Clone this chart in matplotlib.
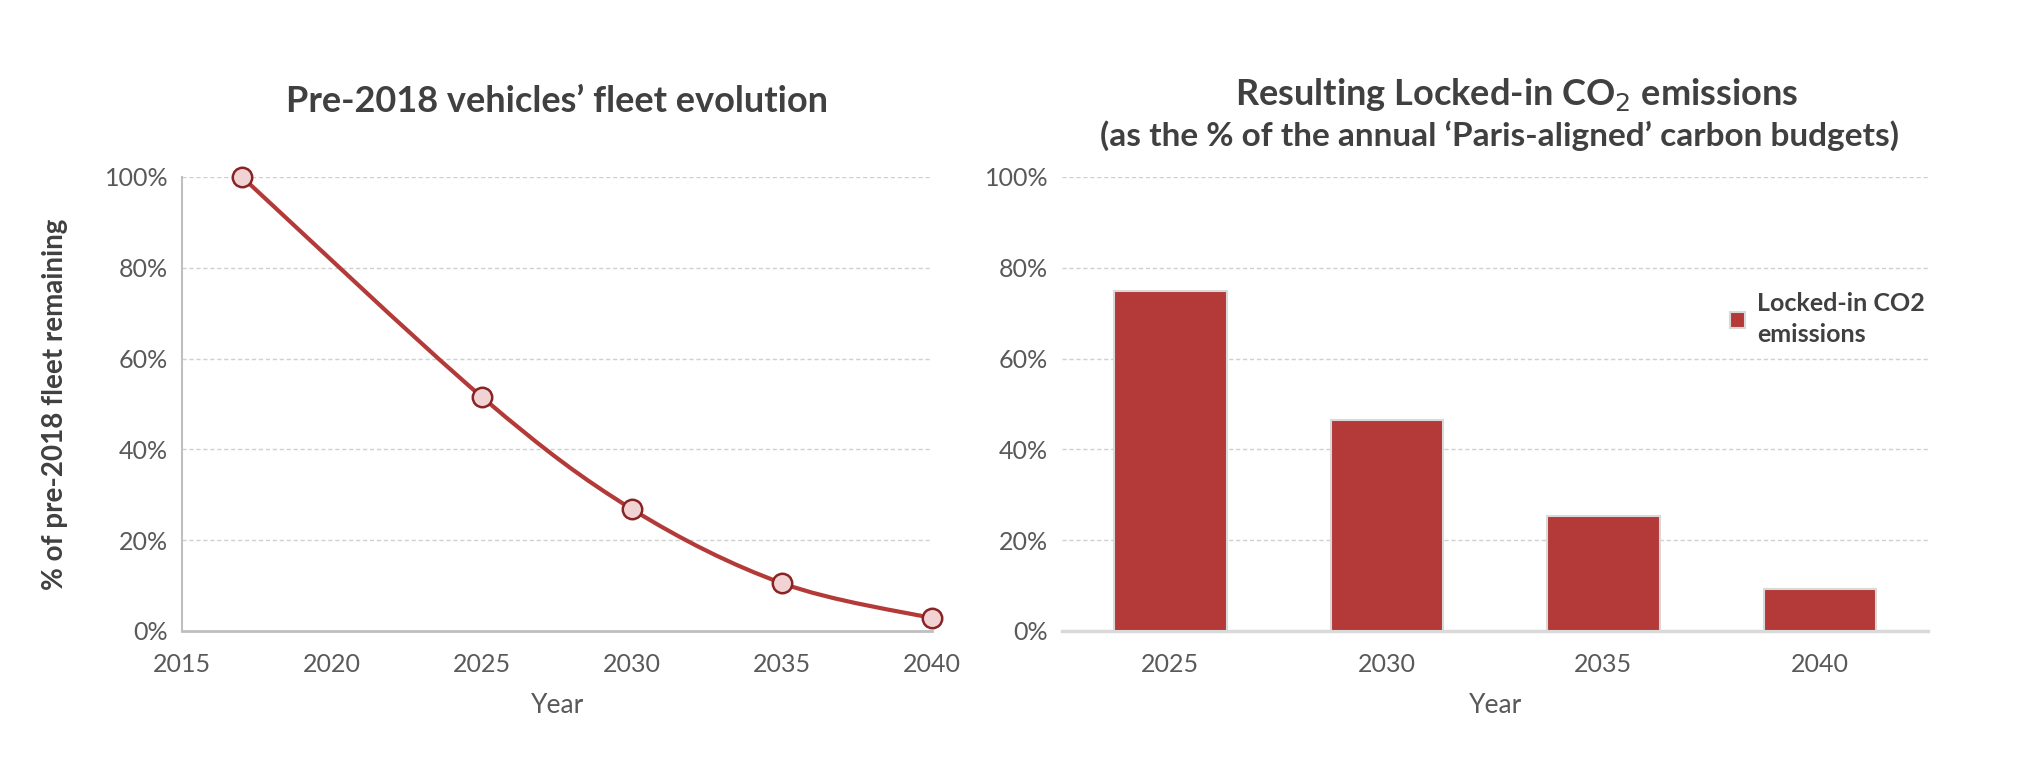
import matplotlib.pyplot as plt
from matplotlib.path import Path
from matplotlib.patches import PathPatch
from matplotlib.ticker import PercentFormatter
import numpy as np

plt.rcParams['font.family'] = ['Lato', 'DejaVu Sans']

# left panel: share of the pre-2018 fleet still on the road
fleet_years = [2017, 2025, 2030, 2035, 2040]
fleet_share = [1.00, 0.515, 0.268, 0.105, 0.028]

# right panel: locked-in CO2 as share of annual budget
budget_years = ['2025', '2030', '2035', '2040']
locked_share = [0.748, 0.464, 0.252, 0.092]

RED = '#b33a38'
EDGE = '#8a2424'
FACE = '#f2d3d3'
TXT = '#404040'
TICK = '#595959'
GRID = '#d0d0d0'


def smooth_path(x, y, tension=1 / 6):
    """Catmull-Rom style cubic Bezier path through the data points."""
    pts = np.column_stack([x, y]).astype(float)
    verts = [pts[0]]
    codes = [Path.MOVETO]
    n = len(pts)
    for i in range(n - 1):
        p0 = pts[max(i - 1, 0)]
        p1 = pts[i]
        p2 = pts[i + 1]
        p3 = pts[min(i + 2, n - 1)]
        c1 = p1 + (p2 - p0) * tension
        c2 = p2 - (p3 - p1) * tension
        verts += [c1, c2, p2]
        codes += [Path.CURVE4] * 3
    return Path(verts, codes)


def style_axes(ax):
    ax.set_ylim(0, 1)
    ax.set_yticks(np.arange(0, 1.01, 0.2))
    ax.yaxis.set_major_formatter(PercentFormatter(1.0, decimals=0))
    ax.yaxis.grid(True, color=GRID, linestyle=(0, (3, 2)), linewidth=1)
    ax.set_axisbelow(True)
    for s in ('top', 'right'):
        ax.spines[s].set_visible(False)
    ax.tick_params(length=0, labelsize=18, labelcolor=TICK)
    ax.tick_params(axis='y', pad=10)


fig = plt.figure(figsize=(20.41, 7.76), dpi=100)

# ---- left: fleet evolution
ax1 = fig.add_axes([0.0892, 0.187, 0.3675, 0.585])
style_axes(ax1)
ax1.set_xlim(2015, 2040)
ax1.set_xticks(range(2015, 2041, 5))
ax1.tick_params(axis='x', pad=16)
ax1.spines['left'].set_color('#bfbfbf')
ax1.spines['bottom'].set_color('#bfbfbf')
ax1.spines['left'].set_linewidth(1.5)
ax1.spines['bottom'].set_linewidth(2)
ax1.add_patch(PathPatch(smooth_path(fleet_years, fleet_share), fill=False,
                        edgecolor=RED, linewidth=3, clip_on=False, zorder=3))
ax1.plot(fleet_years, fleet_share, linestyle='none', marker='o', markersize=14,
         markerfacecolor=FACE, markeredgecolor=EDGE, markeredgewidth=1.8,
         clip_on=False, zorder=4)
ax1.set_xlabel('Year', fontsize=19, color=TICK, labelpad=12)
ax1.set_ylabel('% of pre-2018 fleet remaining', fontsize=20, fontweight='bold',
               color=TXT, labelpad=26)
ax1.set_title("Pre-2018 vehicles\u2019 fleet evolution", fontsize=26,
              fontweight='bold', color=TXT, pad=47)

# ---- right: locked-in emissions
ax2 = fig.add_axes([0.5204, 0.187, 0.4243, 0.585])
style_axes(ax2)
ax2.spines['left'].set_visible(False)
ax2.spines['bottom'].set_color('#d9d9d9')
ax2.spines['bottom'].set_linewidth(2.5)
xpos = np.arange(len(budget_years))
ax2.bar(xpos, locked_share, width=0.52, color=RED, edgecolor='#d9d9d9',
        linewidth=1.5, label='Locked-in CO2\nemissions', zorder=3)
ax2.set_xlim(-0.5, len(budget_years) - 0.5)
ax2.set_xticks(xpos, budget_years)
ax2.tick_params(axis='x', pad=16)
ax2.set_xlabel('Year', fontsize=19, color=TICK, labelpad=12)

ax2.text(0.525, 1.14, 'Resulting Locked-in CO$_2$ emissions', transform=ax2.transAxes,
         ha='center', va='bottom', fontsize=26, fontweight='bold', color=TXT)
ax2.text(0.505, 1.058, '(as the % of the annual \u2018Paris-aligned\u2019 carbon budgets)',
         transform=ax2.transAxes, ha='center', va='bottom', fontsize=24,
         fontweight='bold', color=TXT)

leg = ax2.legend(loc='upper left', bbox_to_anchor=(0.745, 0.795), frameon=False,
                 handlelength=0.6, handleheight=0.6, handletextpad=0.5,
                 prop={'size': 18, 'weight': 'bold'})
for t in leg.get_texts():
    t.set_color(TXT)
    t.set_linespacing(1.4)

fig.savefig('out.png', dpi=100, facecolor='white')
